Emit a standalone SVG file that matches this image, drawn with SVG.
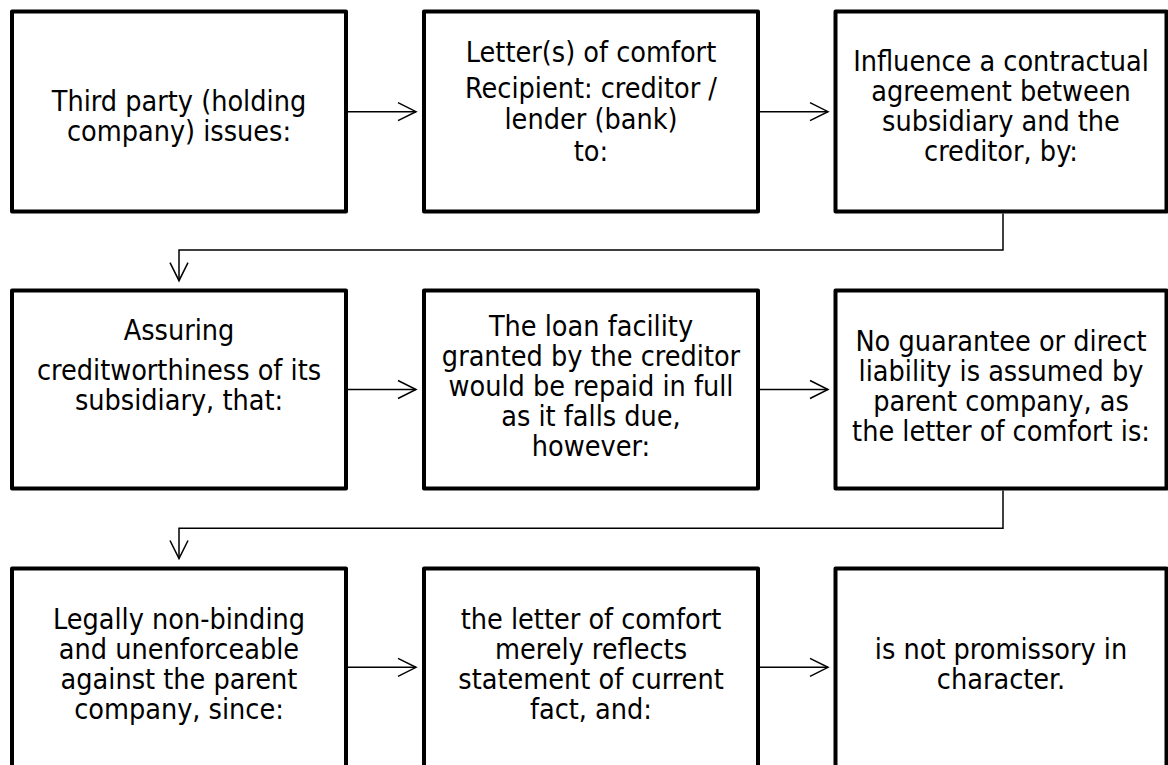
<svg xmlns="http://www.w3.org/2000/svg" width="1168" height="765" viewBox="0 0 1168 765">
<defs>
<style>
.box{fill:#ffffff;stroke:#000000;stroke-width:4;stroke-linejoin:round}
.t{font-family:"DejaVu Sans Condensed","DejaVu Sans",sans-serif;font-size:28.5px;fill:#000000;text-anchor:middle}
.c{fill:none;stroke:#000000;stroke-width:1.5}
</style>
<marker id="arr" markerUnits="userSpaceOnUse" markerWidth="22" markerHeight="24" viewBox="-20 -12 22 24" refX="0" refY="0" orient="auto">
<path d="M-18,-9 L0,0 L-18,9" fill="none" stroke="#000000" stroke-width="1.5"/>
</marker>
</defs>
<rect width="1168" height="765" fill="#ffffff"/>
<g id="n1"><rect class="box" x="12" y="11.5" width="334" height="200"/>
<text class="t"><tspan x="179" y="110.5">Third party (holding</tspan><tspan x="179" y="141">company) issues:</tspan></text></g>
<g id="n2"><rect class="box" x="424" y="11.5" width="334" height="200"/>
<text class="t"><tspan x="591" y="62">Letter(s) of comfort</tspan><tspan x="591" y="98">Recipient: creditor /</tspan><tspan x="591" y="128.5">lender (bank)</tspan><tspan x="591" y="160.5">to:</tspan></text></g>
<g id="n3"><rect class="box" x="835.5" y="11.5" width="331" height="200"/>
<text class="t"><tspan x="1001" y="71">Influence a contractual</tspan><tspan x="1001" y="101">agreement between</tspan><tspan x="1001" y="131">subsidiary and the</tspan><tspan x="1001" y="161">creditor, by:</tspan></text></g>
<g id="n4"><rect class="box" x="12" y="290.5" width="334" height="198"/>
<text class="t"><tspan x="179" y="340">Assuring</tspan><tspan x="179" y="379.5">creditworthiness of its</tspan><tspan x="179" y="410">subsidiary, that:</tspan></text></g>
<g id="n5"><rect class="box" x="424" y="290.5" width="334" height="198"/>
<text class="t"><tspan x="591" y="336">The loan facility</tspan><tspan x="591" y="366">granted by the creditor</tspan><tspan x="591" y="396">would be repaid in full</tspan><tspan x="591" y="426">as it falls due,</tspan><tspan x="591" y="456">however:</tspan></text></g>
<g id="n6"><rect class="box" x="835.5" y="290.5" width="331" height="198"/>
<text class="t"><tspan x="1001" y="350.5">No guarantee or direct</tspan><tspan x="1001" y="380.5">liability is assumed by</tspan><tspan x="1001" y="410.5">parent company, as</tspan><tspan x="1001" y="440.5">the letter of comfort is:</tspan></text></g>
<g id="n7"><rect class="box" x="12" y="568.5" width="334" height="200"/>
<text class="t"><tspan x="179" y="628.5">Legally non-binding</tspan><tspan x="179" y="658.5">and unenforceable</tspan><tspan x="179" y="688.5">against the parent</tspan><tspan x="179" y="718.5">company, since:</tspan></text></g>
<g id="n8"><rect class="box" x="424" y="568.5" width="334" height="200"/>
<text class="t"><tspan x="591" y="628.5">the letter of comfort</tspan><tspan x="591" y="658.5">merely reflects</tspan><tspan x="591" y="688.5">statement of current</tspan><tspan x="591" y="718.5">fact, and:</tspan></text></g>
<g id="n9"><rect class="box" x="835.5" y="568.5" width="331" height="200"/>
<text class="t"><tspan x="1001" y="658.5">is not promissory in</tspan><tspan x="1001" y="688.5">character.</tspan></text></g>
<g id="connectors">
<path class="c" d="M348,111.7 H416" marker-end="url(#arr)"/>
<path class="c" d="M760,111.7 H828" marker-end="url(#arr)"/>
<path class="c" d="M1003,213.5 V250 H179 V280.7" marker-end="url(#arr)"/>
<path class="c" d="M348,389.5 H416" marker-end="url(#arr)"/>
<path class="c" d="M760,389.5 H828" marker-end="url(#arr)"/>
<path class="c" d="M1003,490.5 V528.3 H179 V558.5" marker-end="url(#arr)"/>
<path class="c" d="M348,667.3 H416" marker-end="url(#arr)"/>
<path class="c" d="M760,667.3 H828" marker-end="url(#arr)"/>
</g>
</svg>
